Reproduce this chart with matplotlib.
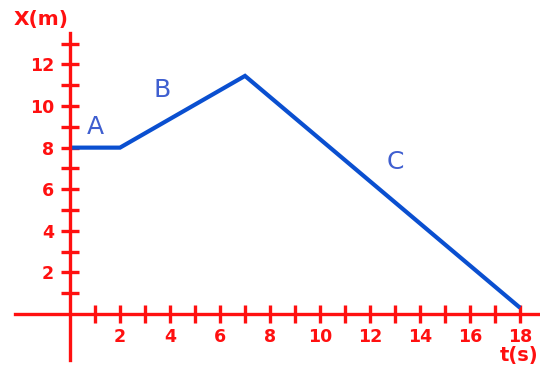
import matplotlib
matplotlib.use("Agg")
import matplotlib.pyplot as plt
from matplotlib.ticker import MultipleLocator, FuncFormatter

# Data: position-time graph
t_values = [0, 2, 7, 18]
x_values = [8, 8, 11.45, 0.3]
segment_labels = ["A", "B", "C"]
segment_label_t = [1.0, 3.7, 13.0]
segment_label_x = [9.0, 10.75, 7.3]
x_axis_label = "t(s)"
y_axis_label = "X(m)"

RED = "#ff1010"
BLUE = "#0a4fd0"
LETTER = "#3f5fd0"

fig = plt.figure(figsize=(5.4, 3.67), dpi=100)
ax = fig.add_axes([0, 0, 1, 1])
ax.set_xlim(-2.8, 18.8)
ax.set_ylim(-2.55, 15.1)

for s in ("top", "right"):
    ax.spines[s].set_visible(False)
ax.spines["left"].set_position(("data", 0))
ax.spines["bottom"].set_position(("data", 0))
for s in ("left", "bottom"):
    ax.spines[s].set_color(RED)
    ax.spines[s].set_linewidth(2.4)
ax.spines["left"].set_bounds(-2.2, 13.5)
ax.spines["bottom"].set_bounds(-2.2, 18.8)

def fmt(v, pos):
    iv = int(round(v))
    if iv != 0 and iv % 2 == 0:
        return str(iv)
    return ""

ax.set_xticks([i for i in range(1, 19)])
ax.set_yticks([i for i in range(1, 14)])
ax.xaxis.set_major_formatter(FuncFormatter(fmt))
ax.yaxis.set_major_formatter(FuncFormatter(fmt))

ax.tick_params(axis="both", which="major", direction="inout", length=13,
               width=2.4, color=RED, labelcolor=RED, labelsize=12.5)
ax.tick_params(axis="x", pad=3.5)
ax.tick_params(axis="y", pad=5)
for lbl in ax.get_xticklabels() + ax.get_yticklabels():
    lbl.set_fontweight("bold")

ax.plot(t_values, x_values, color=BLUE, lw=3.0, solid_capstyle="butt",
        solid_joinstyle="miter")

for lab, tx, xx in zip(segment_labels, segment_label_t, segment_label_x):
    ax.text(tx, xx, lab, color=LETTER, fontsize=18, ha="center", va="center")

ax.text(-1.15, 14.15, y_axis_label, color=RED, fontsize=14.5, fontweight="bold",
        ha="center", va="center")
ax.text(17.95, -2.0, x_axis_label, color=RED, fontsize=14, fontweight="bold",
        ha="center", va="center")

fig.savefig("out.png", dpi=100)
